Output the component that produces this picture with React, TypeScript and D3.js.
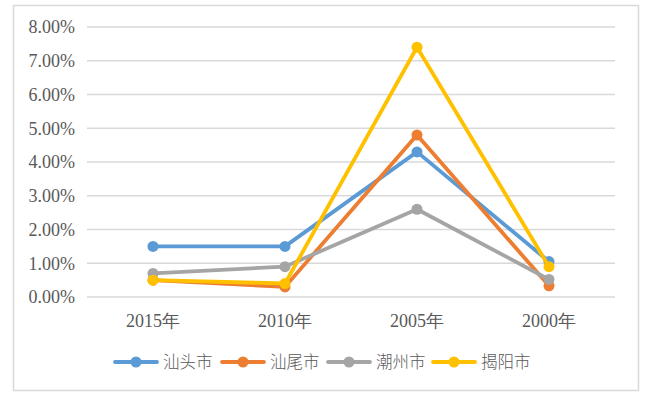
import { useRef, useEffect } from "react";
import * as d3 from "d3";

const years = ["2015年", "2010年", "2005年", "2000年"];
const cities = ["汕头市", "汕尾市", "潮州市", "揭阳市"];
const shantou = [1.5, 1.5, 4.3, 1.05];
const shanwei = [0.5, 0.3, 4.8, 0.33];
const chaozhou = [0.7, 0.9, 2.6, 0.52];
const jieyang = [0.5, 0.4, 7.4, 0.9];
const yTicks = [0, 1, 2, 3, 4, 5, 6, 7, 8];
const colors = ["#5B9BD5", "#ED7D31", "#A5A5A5", "#FFC000"];

const App = () => {
  const svgRef = useRef(null);

  useEffect(() => {
    const width = 653;
    const height = 396;
    const svg = d3.select(svgRef.current);
    svg.selectAll("*").remove();
    svg.attr("width", width).attr("height", height);

    const font = "'Liberation Serif', serif";
    const textColor = "#595959";

    // chart frame
    svg
      .append("rect")
      .attr("x", 13.5)
      .attr("y", 5.5)
      .attr("width", 625)
      .attr("height", 385)
      .attr("fill", "#fff")
      .attr("stroke", "#d9d9d9")
      .attr("stroke-width", 1.5);

    const x = d3.scaleBand().domain(years).range([87, 615]);
    const y = d3.scaleLinear().domain([0, 8]).range([297, 27]);

    // gridlines
    svg
      .append("g")
      .selectAll("line")
      .data(yTicks)
      .enter()
      .append("line")
      .attr("x1", 87)
      .attr("x2", 615)
      .attr("y1", (d) => y(d))
      .attr("y2", (d) => y(d))
      .attr("stroke", "#d9d9d9")
      .attr("stroke-width", 1.3);

    // y labels
    svg
      .append("g")
      .selectAll("text")
      .data(yTicks)
      .enter()
      .append("text")
      .attr("x", 75)
      .attr("y", (d) => y(d))
      .attr("dy", "0.35em")
      .attr("text-anchor", "end")
      .style("font-family", font)
      .style("font-size", "18px")
      .attr("fill", textColor)
      .text((d) => d.toFixed(2) + "%");

    // x labels
    svg
      .append("g")
      .selectAll("text")
      .data(years)
      .enter()
      .append("text")
      .attr("x", (d) => x(d) + x.bandwidth() / 2)
      .attr("y", 327)
      .attr("text-anchor", "middle")
      .style("font-family", font)
      .style("font-size", "18px")
      .attr("fill", textColor)
      .text((d) => d);

    const series = [shantou, shanwei, chaozhou, jieyang];
    const line = d3
      .line()
      .x((d, i) => x(years[i]) + x.bandwidth() / 2)
      .y((d) => y(d));

    series.forEach((vals, k) => {
      const g = svg.append("g");
      g.append("path")
        .attr("d", line(vals))
        .attr("fill", "none")
        .attr("stroke", colors[k])
        .attr("stroke-width", 3.8)
        .attr("stroke-linejoin", "round")
        .attr("stroke-linecap", "round");
      g.selectAll("circle")
        .data(vals)
        .enter()
        .append("circle")
        .attr("cx", (d, i) => x(years[i]) + x.bandwidth() / 2)
        .attr("cy", (d) => y(d))
        .attr("r", 5.5)
        .attr("fill", colors[k]);
    });

    // legend
    const legendX = [115, 222, 328, 433];
    const ly = 362;
    cities.forEach((c, k) => {
      const g = svg.append("g").attr("transform", `translate(${legendX[k]},${ly})`);
      g.append("line")
        .attr("x1", 0)
        .attr("x2", 42)
        .attr("stroke", colors[k])
        .attr("stroke-width", 3.8)
        .attr("stroke-linecap", "round");
      g.append("circle").attr("cx", 21).attr("r", 5.5).attr("fill", colors[k]);
      g.append("text")
        .attr("x", 48)
        .attr("dy", "0.35em")
        .style("font-family", "'Noto Sans CJK SC', sans-serif")
        .style("font-size", "16.5px")
        .style("font-weight", 300)
        .attr("fill", textColor)
        .text(c);
    });
  }, []);

  return <svg ref={svgRef} style={{ position: "absolute", left: 0, top: 0 }}></svg>;
};

export default App;
